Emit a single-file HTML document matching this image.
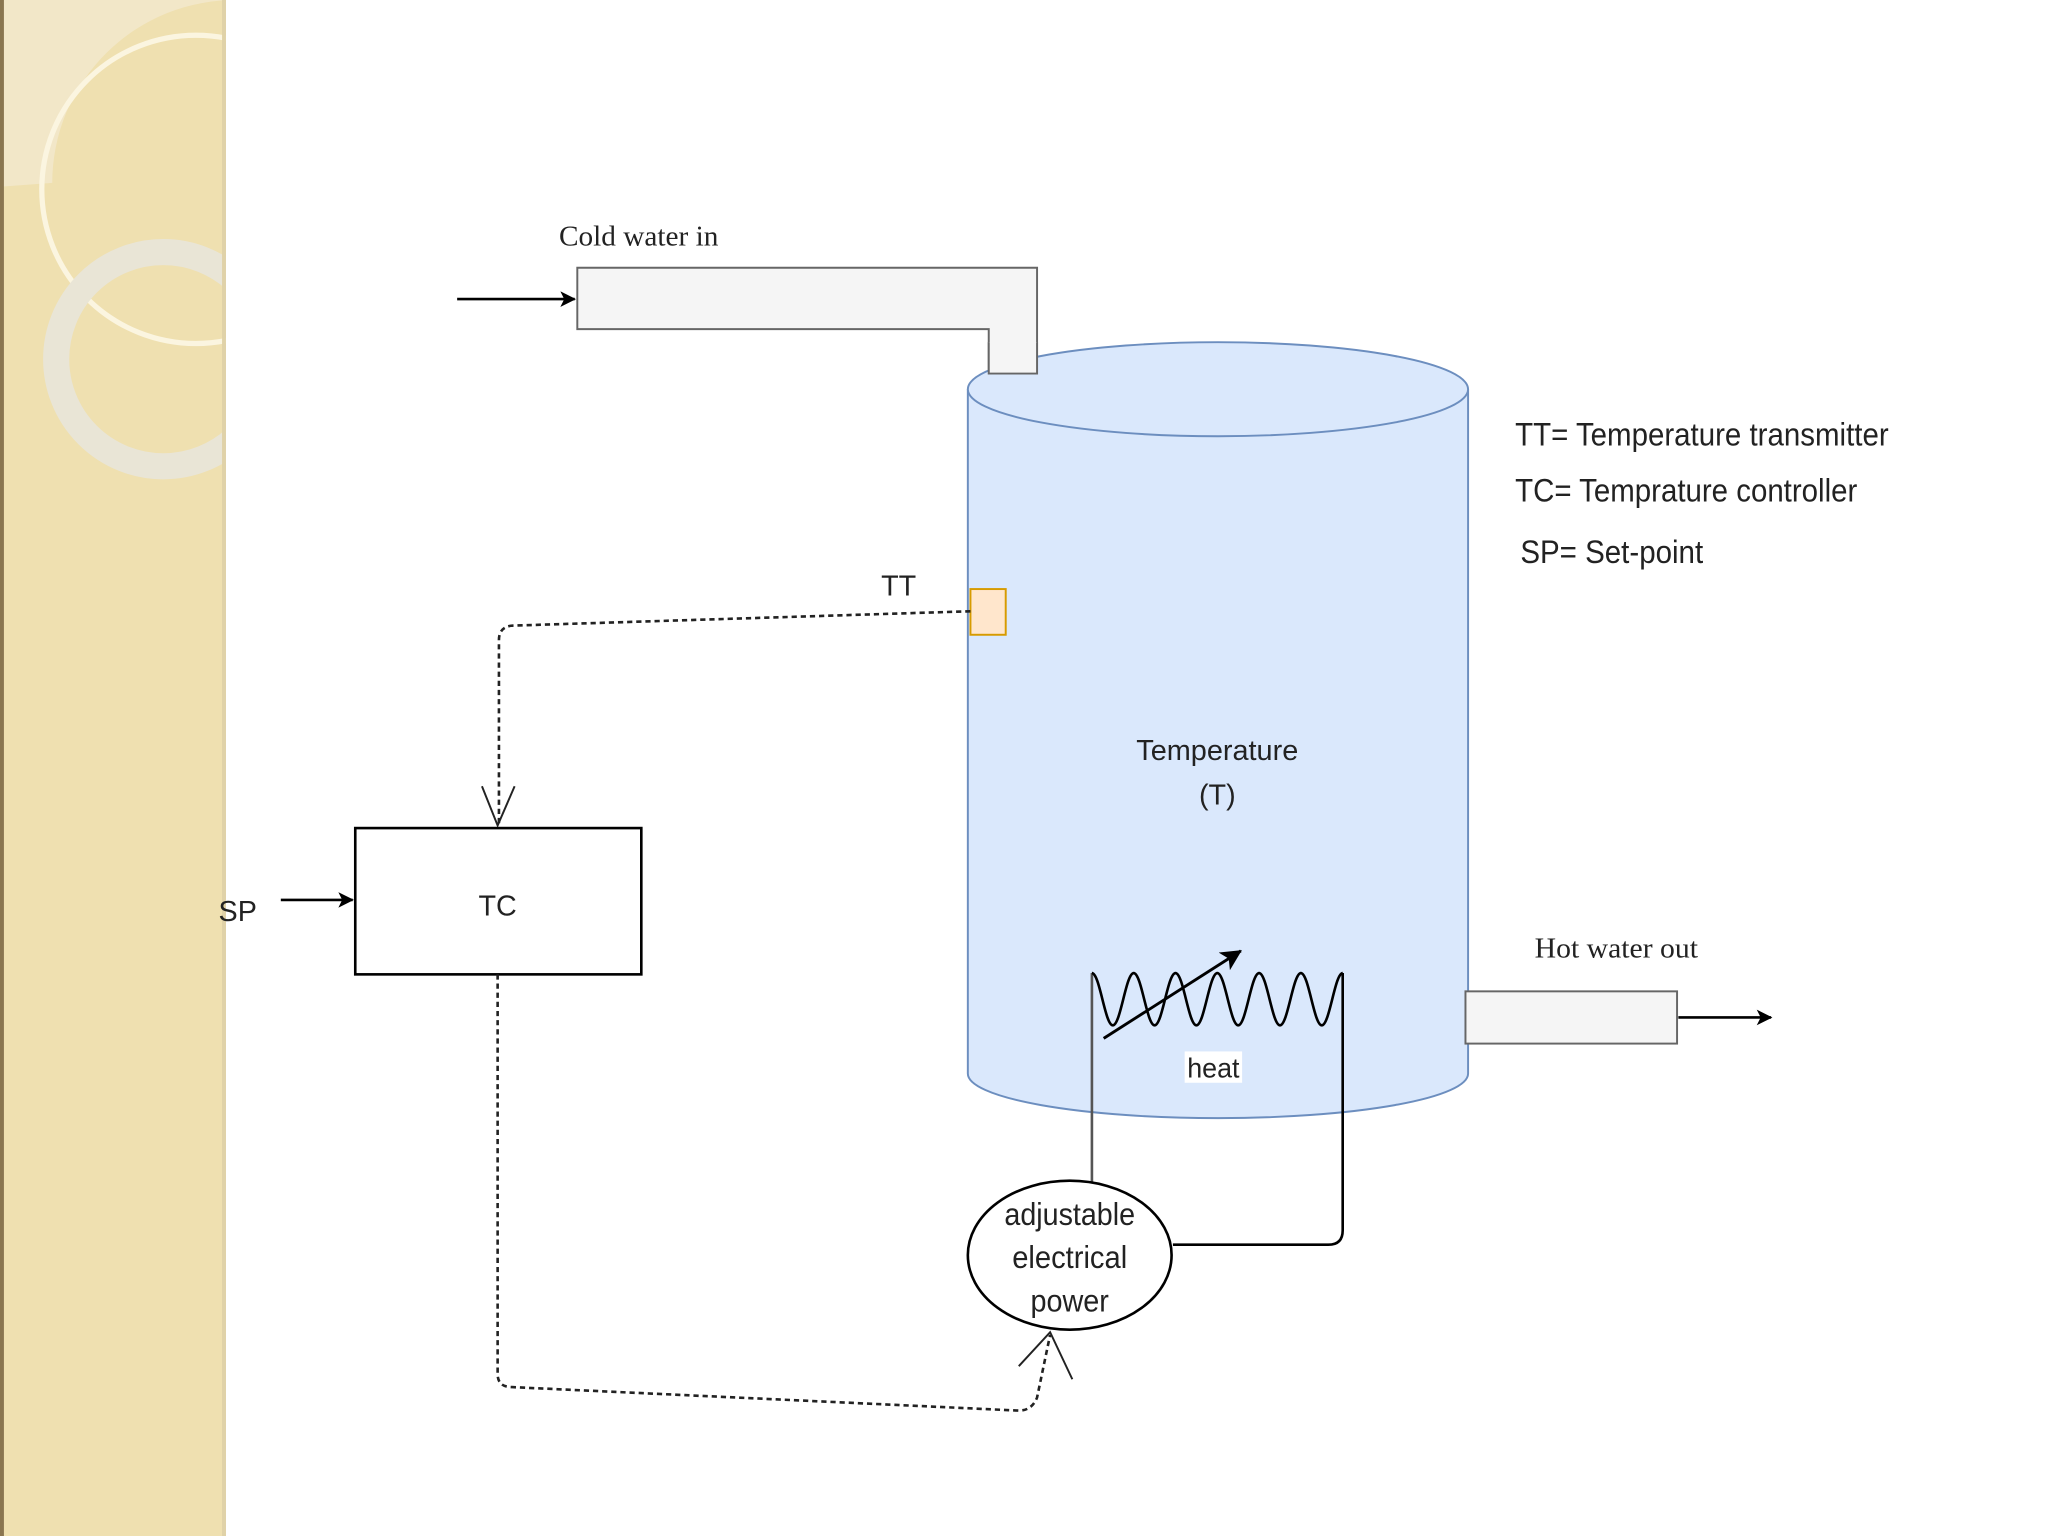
<!DOCTYPE html>
<html><head><meta charset="utf-8"><style>
html,body{margin:0;padding:0;background:#fff;}
svg{display:block;}
text{font-family:"Liberation Sans",sans-serif;}
.serif{font-family:"Liberation Serif",serif;}
</style></head><body>
<svg width="2048" height="1536" viewBox="0 0 1568 1176" preserveAspectRatio="none" xmlns="http://www.w3.org/2000/svg">
<defs>
<marker id="ar" markerWidth="12" markerHeight="12" refX="11" refY="6" orient="auto" markerUnits="userSpaceOnUse"><path d="M0,0 L12,6 L0,12 L3,6 Z" fill="#000"/></marker>
<marker id="ar2" markerWidth="16" markerHeight="16" refX="15" refY="8" orient="auto" markerUnits="userSpaceOnUse"><path d="M0,0 L16,8 L0,16 L4,8 Z" fill="#000"/></marker>
<clipPath id="lp"><rect x="0" y="0" width="173" height="1176"/></clipPath>
</defs>
<rect width="1568" height="1176" fill="#fff"/>
<g clip-path="url(#lp)">
<rect x="0" y="0" width="173" height="1176" fill="#efe0b0"/>
<path d="M0,0 H182 V0 A140,140 0 0 0 40,140 L0,143 Z" fill="#f2e7c8"/>
<circle cx="150" cy="145" r="118" fill="none" stroke="#fbf5e0" stroke-width="4"/>
<circle cx="125" cy="275" r="82" fill="none" stroke="#e9e5d6" stroke-width="20"/>
<rect x="0" y="0" width="3" height="1176" fill="#8a7650"/>
<rect x="170" y="0" width="3" height="1176" fill="#e0d2a8"/>
</g>
<path d="M442,205 H794 V286 H757 V252 H442 Z" fill="#f5f5f5" stroke="#666" stroke-width="1.5"/>
<line x1="350" y1="229" x2="440" y2="229" stroke="#000" stroke-width="2" marker-end="url(#ar)"/>
<text x="428" y="188" class="serif" font-size="22" fill="#222" textLength="122" lengthAdjust="spacingAndGlyphs">Cold water in</text>
<path d="M741,298 V822 A191,34 0 0 0 1124,822 V298" fill="#dae8fc" stroke="#6c8ebf" stroke-width="1.5"/>
<ellipse cx="932.5" cy="298" rx="191.5" ry="36" fill="#dae8fc" stroke="#6c8ebf" stroke-width="1.5"/>
<rect x="757" y="262" width="37" height="24" fill="#f5f5f5"/>
<path d="M757,262 V286 H794 V262" fill="none" stroke="#666" stroke-width="1.5"/>
<text x="932" y="582" font-size="22" text-anchor="middle" fill="#222" textLength="124" lengthAdjust="spacingAndGlyphs">Temperature</text>
<text x="932" y="616" font-size="22" text-anchor="middle" fill="#222">(T)</text>
<rect x="743" y="451" width="27" height="35" fill="#ffe6cc" stroke="#d79b00" stroke-width="1.5"/>
<text x="688" y="456" font-size="22" text-anchor="middle" fill="#222">TT</text>
<path d="M743,468 L392,479 Q382,480 382,490 V632" fill="none" stroke="#222" stroke-width="2" stroke-dasharray="4,3"/>
<path d="M369,602 L381,632 L394,602" fill="none" stroke="#222" stroke-width="1.5"/>
<rect x="272" y="634" width="219" height="112" fill="#fff" stroke="#000" stroke-width="2"/>
<text x="381" y="701" font-size="22" text-anchor="middle" fill="#222">TC</text>
<text x="182" y="705" font-size="22" text-anchor="middle" fill="#222">SP</text>
<line x1="215" y1="689" x2="270" y2="689" stroke="#000" stroke-width="2" marker-end="url(#ar)"/>
<path d="M381,746 V1052 Q381,1062 392,1062 L780,1080 Q790,1080 794,1070 L804,1022" fill="none" stroke="#222" stroke-width="2" stroke-dasharray="4,3"/>
<path d="M780,1046 L804,1020 L821,1056" fill="none" stroke="#222" stroke-width="1.5"/>
<path d="M836,905 V745" fill="none" stroke="#555" stroke-width="2"/>
<path d="M836,745 C842,745 846,785 852,785 C858,785 862,745 868,745 C874,745 878,785 884,785 C890,785 894,745 900,745 C906,745 910,785 916,785 C922,785 926,745 932,745 C938,745 942,785 948,785 C954,785 958,745 964,745 C970,745 974,785 980,785 C986,785 990,745 996,745 C1002,745 1006,785 1012,785 C1018,785 1022,745 1028,745" fill="none" stroke="#000" stroke-width="2"/>
<path d="M1028,745 V942 Q1028,953 1017,953 H898" fill="none" stroke="#000" stroke-width="2"/>
<line x1="845" y1="795" x2="950" y2="728" stroke="#000" stroke-width="2.2" marker-end="url(#ar2)"/>
<rect x="907" y="805" width="44" height="24" fill="#fff"/>
<text x="929" y="825" font-size="21" text-anchor="middle" fill="#222" textLength="40" lengthAdjust="spacingAndGlyphs">heat</text>
<ellipse cx="819" cy="961" rx="78" ry="57" fill="#fff" stroke="#000" stroke-width="2"/>
<text x="819" y="938" font-size="24" text-anchor="middle" fill="#222" textLength="100" lengthAdjust="spacingAndGlyphs">adjustable</text>
<text x="819" y="971" font-size="24" text-anchor="middle" fill="#222" textLength="88" lengthAdjust="spacingAndGlyphs">electrical</text>
<text x="819" y="1004" font-size="24" text-anchor="middle" fill="#222" textLength="60" lengthAdjust="spacingAndGlyphs">power</text>
<rect x="1122" y="759" width="162" height="40" fill="#f5f5f5" stroke="#666" stroke-width="1.5"/>
<line x1="1285" y1="779" x2="1356" y2="779" stroke="#000" stroke-width="2" marker-end="url(#ar)"/>
<text x="1175" y="733" class="serif" font-size="22" fill="#222" textLength="125" lengthAdjust="spacingAndGlyphs">Hot water out</text>
<text x="1160" y="341" font-size="25" fill="#222" textLength="286" lengthAdjust="spacingAndGlyphs">TT= Temperature transmitter</text>
<text x="1160" y="384" font-size="25" fill="#222" textLength="262" lengthAdjust="spacingAndGlyphs">TC= Temprature controller</text>
<text x="1164" y="431" font-size="25" fill="#222" textLength="140" lengthAdjust="spacingAndGlyphs">SP= Set-point</text>
</svg>
</body></html>
